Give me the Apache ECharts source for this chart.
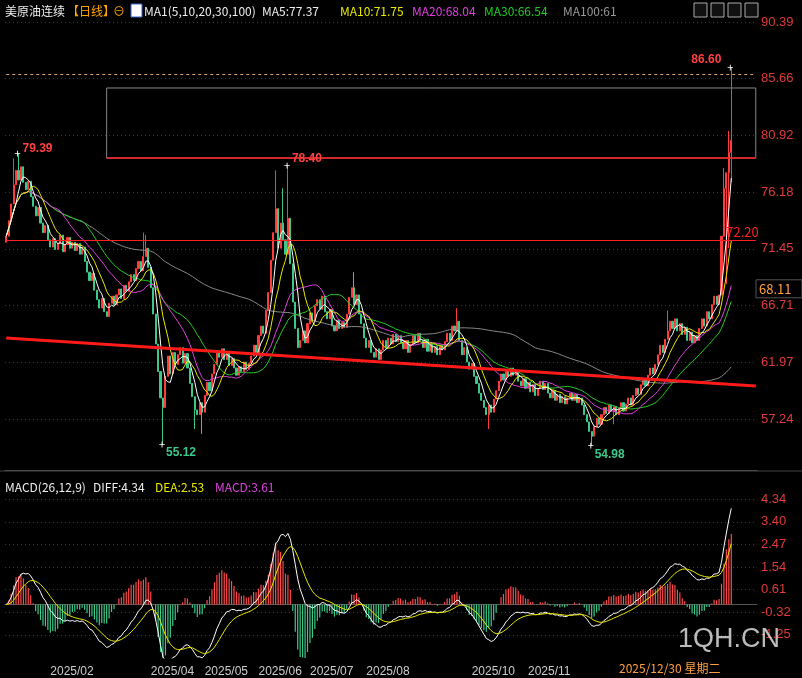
<!DOCTYPE html>
<html><head><meta charset="utf-8">
<script src="https://cdn.jsdelivr.net/npm/echarts@6/dist/echarts.min.js"></script>
<style>html,body{margin:0;padding:0;background:#000;}#c{width:802px;height:678px;}</style>
</head><body><div id="c"></div>
<script>
const closes = [
72.5,73.8,75.2,76.8,78.0,77.2,78.3,77.0,76.4,77.1,
75.8,75.0,74.2,74.9,73.6,72.8,73.4,72.2,71.6,72.3,
71.4,71.9,72.6,71.2,71.8,72.4,71.5,72.0,71.3,71.9,
71.0,71.6,70.4,69.5,68.8,69.4,68.0,67.2,66.5,67.3,
66.2,65.8,66.9,67.5,66.8,67.6,68.1,67.3,68.4,67.9,
68.7,69.3,68.8,69.8,70.4,69.6,70.8,71.5,69.9,68.2,
66.0,63.5,61.2,59.0,58.2,60.8,62.5,61.0,62.8,61.8,
62.6,63.2,61.9,62.7,61.5,60.2,59.1,58.0,57.6,58.6,
57.8,59.2,60.3,59.6,61.0,61.8,62.9,62.4,63.1,62.2,
62.8,61.7,62.3,61.5,60.9,61.6,61.2,62.0,61.4,61.9,
62.5,63.4,62.8,64.2,65.0,64.4,66.3,67.8,70.5,72.8,
74.8,71.5,73.6,72.2,71.0,74.0,70.2,67.0,64.8,63.2,
63.8,64.6,63.6,65.2,66.1,65.4,66.7,67.2,66.4,67.5,
66.2,65.6,66.4,65.0,64.6,65.5,64.8,65.3,64.9,66.0,
67.4,68.2,66.8,67.6,66.0,65.2,64.0,63.2,63.8,62.8,
62.4,63.1,62.2,63.0,63.8,63.2,64.0,63.5,64.3,63.7,
64.2,63.6,63.1,63.8,62.8,63.5,64.2,63.6,64.4,63.8,
63.2,63.9,62.9,63.5,62.8,63.3,62.6,63.4,63.0,63.7,
64.4,63.8,65.0,64.6,65.4,63.8,62.6,63.2,62.0,61.4,
61.9,60.8,60.2,59.4,58.8,58.2,57.6,58.4,57.8,58.9,
59.6,60.4,61.0,60.5,61.3,60.8,61.5,60.9,61.2,60.4,
60.0,60.6,59.8,60.3,59.5,60.1,59.2,59.8,60.4,59.7,
60.2,59.4,59.0,59.6,58.8,59.3,58.6,59.1,58.5,59.0,
59.4,58.8,59.3,58.6,59.0,58.4,57.6,57.0,56.2,55.8,
56.6,57.3,56.8,57.6,58.2,57.7,58.4,57.9,58.3,57.6,
58.1,58.6,57.9,58.5,59.0,58.4,59.2,59.8,59.3,60.1,
60.6,60.0,60.9,61.5,61.0,61.8,62.6,63.4,62.8,63.9,
64.6,65.4,64.8,65.6,64.6,65.2,64.3,64.9,63.8,64.5,
63.6,64.2,63.8,64.8,65.6,65.0,66.2,65.6,66.8,67.5,
66.8,67.6,72.5,76.5,77.8,79.5,80.5
];
const firstOpen = 72.0;
const wickHigh = [[3,79.0],[5,79.39],[56,72.8],[57,72.6],[110,78.0],[113,76.5],[115,78.40],[142,69.5],[184,66.5],[270,66.3],[293,78.2],[295,81.3],[296,86.60]];
const wickLow = [[64,55.12],[77,56.4],[80,56.0],[197,56.4],[239,54.98],[248,56.8],[294,68.5],[295,71.5],[296,77.0]];
const priceTicks = [90.39,85.66,80.92,76.18,71.45,66.71,61.97,57.24];
const macdTicks = [4.34,3.40,2.47,1.54,0.61,-0.32,-1.25];
const monthLabels = ['2025/02','2025/04','2025/05','2025/06','2025/07','2025/08','2025/10','2025/11'];
const levelLine = 72.20, boxTop = 84.88, boxBottom = 79.03, dashLevel = 86.0, lastTag = 68.11;
const trendStart = 64.0, trendEnd = 60.0;

const EXTRA = 10, N = closes.length, TOTAL = N + EXTRA;
const dates = []; const d = new Date(2025,0,8);
while (dates.length < TOTAL) { const w = d.getDay(); if (w!==0 && w!==6) dates.push(d.getFullYear()+'/'+String(d.getMonth()+1).padStart(2,'0')+'/'+String(d.getDate()).padStart(2,'0')); d.setDate(d.getDate()+1); }
const labelIdx = {};
monthLabels.forEach(m => { const i = dates.findIndex(s => s.startsWith(m)); if (i>=0) labelIdx[i] = m; });

const hiMap = Object.fromEntries(wickHigh), loMap = Object.fromEntries(wickLow);
const kdata = closes.map((c,i) => { const o = i===0?firstOpen:closes[i-1]; let lo=Math.min(o,c), hi=Math.max(o,c); if (hiMap[i]!==undefined) hi=hiMap[i]; if (loMap[i]!==undefined) lo=loMap[i]; return [o,c,lo,hi]; });
function ma(n){ return closes.map((_,i)=>{ const s=Math.max(0,i-n+1); let t=0; for(let j=s;j<=i;j++) t+=closes[j]; return +(t/(i-s+1)).toFixed(3); }); }
function ema(n){ const k=2/(n+1); const r=[]; closes.forEach((c,i)=>r.push(i===0?c:r[i-1]+k*(c-r[i-1]))); return r; }
const e12=ema(12), e26=ema(26); const diff=e12.map((v,i)=>v-e26[i]);
const dea=[]; diff.forEach((v,i)=>dea.push(i===0?v:dea[i-1]+0.2*(v-dea[i-1])));
const macd=diff.map((v,i)=>2*(v-dea[i]));

const chart = echarts.init(document.getElementById('c'));
const line = (name,data,color,grid=0,w=1)=>({name,type:'line',data,xAxisIndex:grid,yAxisIndex:grid,showSymbol:false,symbol:'none',lineStyle:{color,width:w},silent:true,z:3});
const gridLine = {show:true,lineStyle:{color:'#3a3a3a',type:[1,3]}};
chart.setOption({
  backgroundColor:'#000', animation:false,
  grid:[{left:5,right:45,top:22,height:448},{left:5,right:45,top:499,height:162}],
  xAxis:[
    {type:'category',data:dates,gridIndex:0,axisLabel:{show:false},axisTick:{show:false},axisLine:{lineStyle:{color:'#555'}},splitLine:{show:false}},
    {type:'category',data:dates,gridIndex:1,axisTick:{show:false},axisLine:{lineStyle:{color:'#555'}},
     axisLabel:{color:'#ccc',fontSize:12,fontFamily:'Liberation Sans',align:'left',interval:(i)=>labelIdx[i]!==undefined,formatter:(v,i)=>labelIdx[i]||''}}
  ],
  yAxis:[
    {type:'value',gridIndex:0,position:'right',min:52.98,max:90.39,axisLine:{show:false},
     axisTick:{show:false,customValues:priceTicks},splitLine:gridLine,
     axisLabel:{customValues:priceTicks,color:'#e03a3a',fontSize:13,fontFamily:'Liberation Sans',margin:4,formatter:v=>v.toFixed(2)}},
    {type:'value',gridIndex:1,position:'right',min:-2.2,max:4.34,axisLine:{show:false},
     axisTick:{show:false,customValues:macdTicks},splitLine:gridLine,
     axisLabel:{customValues:macdTicks,color:'#e03a3a',fontSize:13,fontFamily:'Liberation Sans',margin:4,formatter:v=>v.toFixed(2)}}
  ],
  series:[
    {type:'candlestick',data:kdata,barWidth:1.6,xAxisIndex:0,yAxisIndex:0,
     itemStyle:{color:'#ff3b3b',color0:'#3cc88a',borderColor:'#ff3b3b',borderColor0:'#3cc88a',borderWidth:1},
     markArea:{silent:true,itemStyle:{color:'rgba(0,0,0,0)',borderColor:'#888',borderWidth:1},data:[[{coord:[41,boxTop]},{coord:[TOTAL-1,boxBottom]}]]},
     markLine:{silent:true,symbol:'none',label:{show:false},data:[
       [{coord:[0,levelLine],lineStyle:{color:'#ff2020',width:1.2,type:'solid'}},{coord:[TOTAL-1,levelLine]}],
       [{coord:[41,boxBottom],lineStyle:{color:'#ff2020',width:1.5,type:'solid'}},{coord:[TOTAL-1,boxBottom]}],
       [{coord:[0,trendStart],lineStyle:{color:'#ff1a1a',width:3,type:'solid'}},{coord:[TOTAL-1,trendEnd]}],
       [{coord:[0,dashLevel],lineStyle:{color:'#d9a070',width:1,type:[3,3]}},{coord:[TOTAL-1,dashLevel]}]
     ]}},
    line('MA100',ma(100),'#8a8a8a'),
    line('MA30',ma(30),'#22cc22'),
    line('MA20',ma(20),'#e040e0'),
    line('MA10',ma(10),'#e8e800'),
    line('MA5',ma(5),'#ffffff'),
    {type:'bar',data:macd.map(v=>({value:v,itemStyle:{color:v>=0?'#ff4a4a':'#3cc88a'}})),xAxisIndex:1,yAxisIndex:1,barWidth:1.2,silent:true},
    line('DIFF',diff,'#ffffff',1),
    line('DEA',dea,'#e8e800',1)
  ]
});
const P=(i,v)=>chart.convertToPixel({gridIndex:0},[i,v]);
const t=(x,y,text,fill,size=12,extra={},z=10)=>({type:'text',x,y,style:Object.assign({text,fill,font:size+'px "Noto Sans CJK SC", "Liberation Sans"',textVerticalAlign:'middle'},extra),z});
const g=[];
g.push(t(5,11,'美原油连续','#eee',12),t(67,11,'【日线】','#ffa500',12),t(113,11,'⊖','#ffa500',12),
 {type:'rect',shape:{x:131,y:4,width:11,height:13},style:{fill:'#fff',stroke:'#36c'},z:10},
 t(144,11,'MA1(5,10,20,30,100)','#eee',12),t(262,11,'MA5:77.37','#eee',12),t(340,11,'MA10:71.75','#e8e800',12),
 t(412,11,'MA20:68.04','#e040e0',12),t(484,11,'MA30:66.54','#22cc22',12),t(563,11,'MA100:61','#999',12));
[694,711,728,745].forEach(x=>g.push({type:'rect',shape:{x,y:3,width:13,height:14},style:{fill:'#111',stroke:'#aaa'},z:10}));
g.push(t(5,487,'MACD(26,12,9)','#eee',12),t(93,487,'DIFF:4.34','#eee',12),t(155,487,'DEA:2.53','#e8e800',12),t(215,487,'MACD:3.61','#e040e0',12));
g.push({type:'line',shape:{x1:0,y1:471,x2:802,y2:471},style:{stroke:'#444',lineWidth:1},z:10});
let p;
p=P(5,79.39); g.push(t(p[0]+4,p[1]-5,'79.39','#ff4040',12,{fontWeight:'bold'}),t(p[0]-4,p[1],'+','#fff',11));
p=P(115,78.40); g.push(t(p[0]+4,p[1]-7,'78.40','#ff4040',12,{fontWeight:'bold'}),t(p[0]-4,p[1],'+','#fff',11));
p=P(64,55.12); g.push(t(p[0]+3,p[1]+8,'55.12','#3cc88a',12,{fontWeight:'bold'}),t(p[0]-4,p[1],'+','#fff',11));
p=P(239,54.98); g.push(t(p[0]+3,p[1]+9,'54.98','#3cc88a',12,{fontWeight:'bold'}),t(p[0]-4,p[1],'+','#fff',11));
p=P(296,86.60); g.push(t(p[0]-40,p[1]-8,'86.60','#ff4040',12,{fontWeight:'bold'}),t(p[0]-4,p[1],'+','#fff',11));
p=P(296,levelLine); g.push(t(p[0]-5,p[1]-8,'72.20','#ff2020',13));
p=P(0,lastTag); g.push({type:'rect',shape:{x:756,y:p[1]-9,width:46,height:18},style:{fill:'#000',stroke:'#555'},z:20},t(759,p[1],'68.11','#ffa040',13,{},21));
g.push(t(619,668,'2025/12/30 星期二','#ffa040',12));
g.push(t(678,640,'1QH.CN','rgba(220,220,220,0.85)',27,{font:'27px "Liberation Sans"'}));
chart.setOption({graphic:g});
</script></body></html>
